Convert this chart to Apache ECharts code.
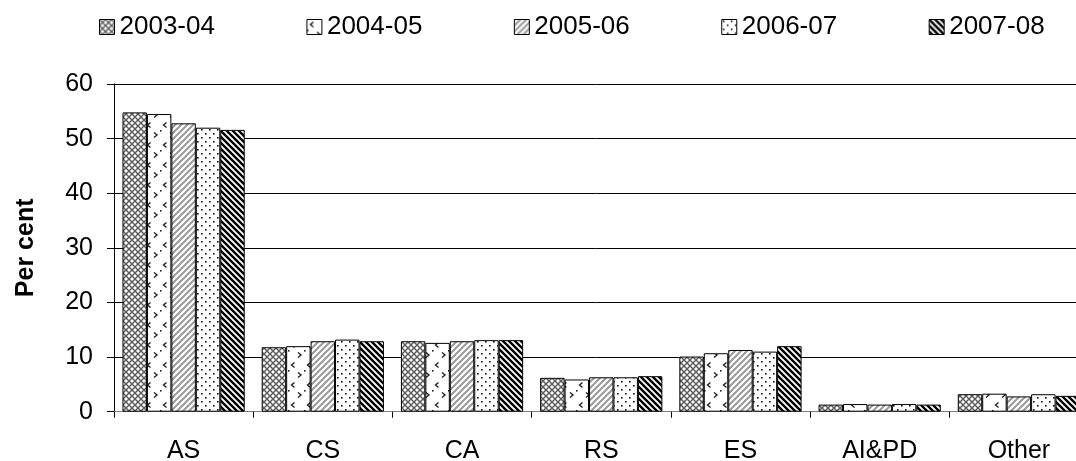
<!DOCTYPE html>
<html><head><meta charset="utf-8">
<script src="https://cdn.jsdelivr.net/npm/echarts@6/dist/echarts.min.js"></script>
<style>html,body{margin:0;padding:0;background:#fff}#c{width:1076px;height:461px}</style>
</head><body><div id="c"></div>
<script>
const categories = ['AS', 'CS', 'CA', 'RS', 'ES', 'AI&PD', 'Other'];
const seriesNames = ['2003-04', '2004-05', '2005-06', '2006-07', '2007-08'];
const v2003 = [54.8, 11.8, 12.9, 6.2, 10.1, 1.3, 3.2];
const v2004 = [54.5, 12.0, 12.6, 5.9, 10.7, 1.4, 3.3];
const v2005 = [52.8, 12.9, 12.9, 6.3, 11.3, 1.3, 2.8];
const v2006 = [52.0, 13.2, 13.1, 6.3, 11.0, 1.4, 3.2];
const v2007 = [51.6, 12.9, 13.1, 6.5, 12.0, 1.3, 2.9];
const yTicks = [0, 10, 20, 30, 40, 50, 60];

function tile(w, h, draw) {
  const c = document.createElement('canvas');
  c.width = w; c.height = h;
  const g = c.getContext('2d');
  g.fillStyle = '#fff'; g.fillRect(0, 0, w, h);
  draw(g);
  return { image: c, repeat: 'repeat' };
}
const patCross = tile(6, 6, g => {
  g.strokeStyle = '#5e5e5e'; g.lineWidth = 1.5;
  g.beginPath(); g.moveTo(-1, -1); g.lineTo(7, 7); g.moveTo(7, -1); g.lineTo(-1, 7); g.stroke();
});
const patChevron = tile(16, 20, g => {
  g.strokeStyle = '#222'; g.lineWidth = 1.4;
  g.beginPath(); g.moveTo(6.5, 2.5); g.lineTo(3.5, 5); g.lineTo(6.5, 7.5); g.stroke();
  g.beginPath(); g.moveTo(10, 12.5); g.lineTo(13, 15); g.lineTo(10, 17.5); g.stroke();
  g.fillStyle = '#222'; g.fillRect(0, 10, 1.6, 1.6);
});
const patLight = tile(6, 6, g => {
  g.strokeStyle = '#9a9a9a'; g.lineWidth = 2;
  g.beginPath(); g.moveTo(-1, 7); g.lineTo(7, -1); g.moveTo(-1, 1); g.lineTo(1, -1); g.moveTo(5, 7); g.lineTo(7, 5); g.stroke();
});
const patDots = tile(8, 8, g => {
  g.fillStyle = '#111'; g.fillRect(1, 1, 1.6, 1.6); g.fillRect(5, 5, 1.6, 1.6);
});
const patDark = tile(6, 6, g => {
  g.strokeStyle = '#000'; g.lineWidth = 2.4;
  g.beginPath(); g.moveTo(-1, -1); g.lineTo(7, 7); g.moveTo(5, -1); g.lineTo(7, 1); g.moveTo(-1, 5); g.lineTo(1, 7); g.stroke();
});
const patterns = [patCross, patChevron, patLight, patDots, patDark];
const values = [v2003, v2004, v2005, v2006, v2007];
const FONT = '"Liberation Sans", Arial, sans-serif';

const chart = echarts.init(document.getElementById('c'), null, { renderer: 'canvas' });
chart.setOption({
  animation: false,
  backgroundColor: '#fff',
  textStyle: { fontFamily: FONT, color: '#000' },
  legend: {
    data: seriesNames, left: 99, top: 14, padding: 0,
    itemWidth: 15, itemHeight: 15, itemGap: 91.5, icon: 'rect',
    itemStyle: { borderColor: '#000', borderWidth: 1 },
    textStyle: { fontSize: 26, color: '#000', fontFamily: FONT }
  },
  grid: { left: 114, right: -12.5, top: 84, bottom: 49.3, containLabel: false, outerBoundsMode: 'none' },
  xAxis: {
    type: 'category', data: categories,
    axisLine: { lineStyle: { color: '#808080', width: 1 } },
    axisTick: { show: true, length: 6, lineStyle: { color: '#000' } },
    axisLabel: { fontSize: 25, color: '#000', margin: 27, fontFamily: FONT, interval: 0 }
  },
  yAxis: {
    type: 'value', min: yTicks[0], max: yTicks[yTicks.length - 1], interval: yTicks[1] - yTicks[0],
    name: 'Per cent', nameLocation: 'middle', nameGap: 75,
    nameTextStyle: { fontSize: 25, fontWeight: 'bold', color: '#000', fontFamily: FONT },
    axisLine: { show: true, lineStyle: { color: '#000', width: 1 } },
    axisTick: { show: true, length: 7, lineStyle: { color: '#000' } },
    splitLine: { show: true, lineStyle: { color: '#000', width: 1 } },
    axisLabel: { fontSize: 25, color: '#000', margin: 21, fontFamily: FONT }
  },
  series: seriesNames.map((n, i) => ({
    name: n, type: 'bar', data: values[i],
    barGap: '0%', barCategoryGap: '12.2%',
    itemStyle: { color: patterns[i], borderColor: '#000', borderWidth: 1 }
  }))
});
</script>
</body></html>
